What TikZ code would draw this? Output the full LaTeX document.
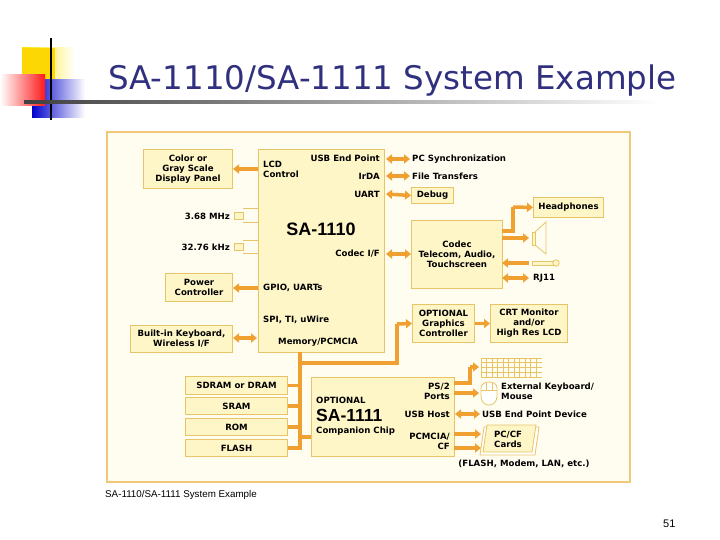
\documentclass[tikz,border=0pt]{standalone}
\usepackage{fontspec}
\setmainfont{DejaVu Sans}
\newfontfamily\titlef{DejaVu Sans}
\newfontfamily\capf{Liberation Sans}
\usetikzlibrary{arrows.meta,shapes.geometric}
\definecolor{frame}{HTML}{F0C878}
\definecolor{bg}{HTML}{FFFDF0}
\definecolor{boxf}{HTML}{FFF6C8}
\definecolor{boxd}{HTML}{E8C468}
\definecolor{arr}{HTML}{F0A030}
\definecolor{navy}{HTML}{30307F}
\tikzset{
 box/.style={draw=boxd,fill=boxf,line width=1pt,inner sep=0pt,align=center,font=\fontsize{8.6}{10}\selectfont\bfseries},
 lbl/.style={inner sep=0pt,align=center,font=\fontsize{8.6}{10}\selectfont\bfseries},
 big/.style={inner sep=0pt,font=\capf\fontsize{18}{18}\selectfont\bfseries},
 bus/.style={draw=arr,line width=3.5pt},
 ar/.style={draw=arr,line width=3.5pt,-{Triangle[length=6pt,width=9pt]}},
 dar/.style={draw=arr,line width=3.5pt,{Triangle[length=6pt,width=9pt]}-{Triangle[length=6pt,width=9pt]}},
}
\begin{document}
\begin{tikzpicture}[x=1pt,y=-1pt]
\useasboundingbox (0,0) rectangle (720,540);
\fill[white] (0,0) rectangle (720,540);
% logo
\shade[left color=yellow!80!orange,right color=white] (22,48) rectangle (75,80);
\fill[yellow!75!orange] (22,48) rectangle (55,80);
\shade[left color=blue!80!black,right color=white] (32,80) rectangle (85,118);
\shade[left color=white,right color=red!90] (0,75) rectangle (45,106);
\draw[line width=1.5pt] (51,38) -- (51,120);
\shade[left color=black!75,right color=white] (24,101) rectangle (660,103.5);
\node[anchor=base west,inner sep=0pt,text=navy,font=\titlef\fontsize{32.5}{32}\selectfont] (title) at (108,90) {SA-1110/SA-1111 System Example};
% frame
\draw[draw=frame,fill=bg,line width=1.5pt] (107,132) rectangle (630,482);
% SA-1110
\node[box,minimum width=126pt,minimum height=203pt,anchor=north west] (sa) at (258,149) {};
\node[big] (salbl) at (321,229) {SA-1110};
\node[lbl,align=left,anchor=west] (lcd) at (263,169) {LCD\\Control};
\node[lbl,anchor=east] (usb) at (380,158) {USB End Point};
\node[lbl,anchor=east] (irda) at (380,176) {IrDA};
\node[lbl,anchor=east] (uart) at (380,194) {UART};
\node[lbl,anchor=east] (codif) at (380,254) {Codec I/F};
\node[lbl,anchor=west] (gpio) at (263,288) {GPIO, UARTs};
\node[lbl,anchor=west] (spi) at (263,320) {SPI, TI, uWire};
\node[lbl] (mem) at (318,342) {Memory/PCMCIA};
% left
\node[box,minimum width=89pt,minimum height=39pt,anchor=north west] (disp) at (143,149) {Color or\\Gray Scale\\Display Panel};
\draw[ar] (258,169) -- (disp.east |- 0,169);
\node[lbl,anchor=east] (c1) at (230,216) {3.68 MHz};
\node[lbl,anchor=east] (c2) at (230,247) {32.76 kHz};
\node[draw=boxd,fill=boxf,minimum width=9pt,minimum height=7pt,inner sep=0pt] (x1) at (239,216) {};
\node[draw=boxd,fill=boxf,minimum width=9pt,minimum height=7pt,inner sep=0pt] (x2) at (239,247) {};
\draw[boxd,line width=1pt] (243,209) -- (258,209) (243,222.5) -- (258,222.5) (243,240) -- (258,240) (243,253.5) -- (258,253.5);
\node[box,minimum width=67pt,minimum height=28pt,anchor=north west] (pow) at (165,273) {Power\\Controller};
\draw[ar] (258,288) -- (pow.east |- 0,288);
\node[box,minimum width=102pt,minimum height=27pt,anchor=north west] (kb) at (130,325) {Built-in Keyboard,\\Wireless I/F};
\draw[dar] (257,338) -- (kb.east |- 0,338);
% right top
\node[lbl,anchor=west] (pcs) at (412,159) {PC Synchronization};
\node[lbl,anchor=west] (ft) at (412,176) {File Transfers};
\node[box,minimum width=42pt,minimum height=16pt,anchor=north west] (dbg) at (411,187) {Debug};
\draw[dar] (386,159) -- (410,159);
\draw[dar] (386,176) -- (410,176);
\draw[dar] (386,194) -- (dbg.west);
\node[box,minimum width=91pt,minimum height=68pt,anchor=north west] (codec) at (411,220) {Codec\\Telecom, Audio,\\Touchscreen};
\draw[dar] (386,254) -- (codec.west |- 0,254);
\node[box,minimum width=70pt,minimum height=20pt,anchor=north west] (hp) at (533,197) {Headphones};
\draw[bus] (502,231) -- (513,231) -- (513,207);
\draw[ar] (513,207) -- (hp.west);
\draw[ar] (502,238) -- (529,238);
\draw[boxd,fill=boxf,line width=0.8pt] (532,232) rectangle (535,245);
\draw[boxd,line width=0.8pt] (535,232) -- (546,222) -- (546,254) -- (535,245);
\coordinate (jk) at (529,263);
\draw[ar] (jk) -- (502,263);
\draw[boxd,fill=boxf,line width=0.8pt] (532,261) rectangle (553,265);
\draw[boxd,fill=boxf,line width=0.8pt] (556,263) circle (3.2);
\node[lbl,anchor=west] (rj) at (533,278) {RJ11};
\draw[dar] (502,278) -- (529,278);
% graphics
\node[box,minimum width=62pt,minimum height=38pt,anchor=north west] (gfx) at (412,304) {OPTIONAL\\Graphics\\Controller};
\node[box,minimum width=77pt,minimum height=38pt,anchor=north west] (crt) at (490,304) {CRT Monitor\\and/or\\High Res LCD};
\draw[ar] (gfx.east) -- (crt.west);
% bus
\draw[bus] (300,352) -- (300,447) (300,363) -- (397,363) -- (397,324);
\draw[ar] (397,324) -- (gfx.west);
% memory
\node[box,minimum width=102pt,minimum height=18pt,anchor=north west] (sd) at (185,376) {SDRAM or DRAM};
\node[box,minimum width=102pt,minimum height=17pt,anchor=north west] (sr) at (185,397) {SRAM};
\node[box,minimum width=102pt,minimum height=17pt,anchor=north west] (rom) at (185,418) {ROM};
\node[box,minimum width=102pt,minimum height=17pt,anchor=north west] (fl) at (185,439) {FLASH};
\draw[bus] (sd.east) -- (301.7,0 |- sd.east) (sr.east) -- (301.7,0 |- sr.east) (rom.east) -- (301.7,0 |- rom.east) (fl.east) -- (301.7,0 |- fl.east);
% SA-1111
\node[box,minimum width=143pt,minimum height=79pt,anchor=north west] (sb) at (311,377) {};
\draw[bus] (300,437) -- (sb.west |- 0,437);
\node[lbl,anchor=west] (opt) at (316,400) {OPTIONAL};
\node[big,anchor=west,font=\capf\fontsize{17.5}{18}\selectfont\bfseries] (sbl) at (316,415) {SA-1111};
\node[lbl,anchor=west] (cc) at (316,431) {Companion Chip};
\node[lbl,align=right,anchor=east] (ps2) at (450,391) {PS/2\\Ports};
\node[lbl,anchor=east] (uh) at (450,414) {USB Host};
\node[lbl,align=right,anchor=east] (pc) at (450,441) {PCMCIA/\\CF};
% right bottom
\foreach \i in {0,...,10} \draw[boxd,line width=0.6pt] (481+\i*5.5,358) -- (481+\i*5.5,377);
\foreach \j in {0,...,4} \draw[boxd,line width=0.6pt] (481,358+\j*4.75) -- (542,358+\j*4.75);
\coordinate (kbg) at (479,367);
\draw[bus] (454,383) -- (470,383) -- (470,367);
\draw[ar] (470,367) -- (kbg);
\draw[boxd,fill=white,line width=0.8pt] (481,388) -- (481,396) .. controls (481,408) and (497,408) .. (497,396) -- (497,388) .. controls (497,380) and (481,380) .. (481,388) -- cycle;
\draw[boxd,line width=0.6pt] (481,390) -- (497,390) (486,383) -- (486,390) (492,383) -- (492,390);
\coordinate (ms) at (479,393);
\draw[ar] (454,393) -- (ms);
\node[lbl,align=left,anchor=west] (ek) at (501,391) {External Keyboard/\\Mouse};
\node[lbl,anchor=west] (ued) at (482,414) {USB End Point Device};
\draw[dar] (455,414) -- (480,414);
\draw[boxd,fill=white,line width=0.8pt] (484,427) -- (539,427) -- (535,455) -- (480,455) -- cycle;
\draw[boxd,fill=boxf,line width=0.8pt] (487,425) -- (536,425) -- (532,452) -- (483,452) -- cycle;
\node[lbl] (pcc) at (508,439) {PC/CF\\Cards};
\draw[ar] (454,434) -- (481,434);
\draw[ar] (454,448) -- (481,448);
\node[lbl] (fm) at (524,464) {(FLASH, Modem, LAN, etc.)};
% caption
\node[anchor=base west,inner sep=0pt,font=\capf\fontsize{9.8}{10}\selectfont] (cap) at (105,497) {SA-1110/SA-1111 System Example};
\node[anchor=base west,inner sep=0pt,font=\capf\fontsize{11}{11}\selectfont] (pg) at (663,527) {51};
\end{tikzpicture}
\end{document}
